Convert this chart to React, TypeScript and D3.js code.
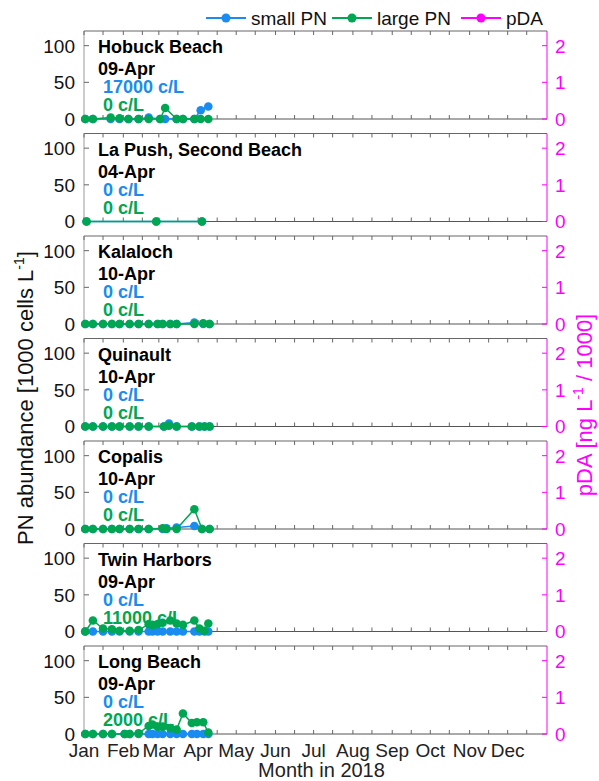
import * as d3 from 'd3';

// site panels, top to bottom
const siteNames = ["Hobuck Beach", "La Push, Second Beach", "Kalaloch", "Quinault", "Copalis", "Twin Harbors", "Long Beach"];
const lastSample = ["09-Apr", "04-Apr", "10-Apr", "10-Apr", "10-Apr", "09-Apr", "09-Apr"];
const smallLabels = ["17000 c/L", "0 c/L", "0 c/L", "0 c/L", "0 c/L", "0 c/L", "0 c/L"];
const largeLabels = ["0 c/L", "0 c/L", "0 c/L", "0 c/L", "0 c/L", "11000 c/L", "2000 c/L"];

const monthLabels = ["Jan", "Feb", "Mar", "Apr", "May", "Jun", "Jul", "Aug", "Sep", "Oct", "Nov", "Dec"];
const leftTicks = [0, 50, 100];
const rightTicks = [0, 1, 2];

// PN abundance in 1000 cells/L
const hobuckDates = ["2018-01-02", "2018-01-08", "2018-01-22", "2018-01-29", "2018-02-05", "2018-02-13", "2018-02-21", "2018-03-02", "2018-03-06", "2018-03-15", "2018-03-20", "2018-03-29", "2018-04-03", "2018-04-09"];
const hobuckSmall = [0, 0, 0, 0, 0, 0, 2, 0, 0, 0, 0, 0, 12, 17];
const hobuckLarge = [0, 0, 2, 1, 0, 0, 0, 0, 15, 0, 0, 0, 0, 0];

const lapushDates = ["2018-01-03", "2018-02-27", "2018-04-04"];
const lapushSmall = [0, 0, 0];
const lapushLarge = [0, 0, 0];

const kalalochDates = ["2018-01-02", "2018-01-08", "2018-01-16", "2018-01-23", "2018-01-29", "2018-02-06", "2018-02-13", "2018-02-21", "2018-02-28", "2018-03-04", "2018-03-10", "2018-03-15", "2018-03-29", "2018-04-05", "2018-04-10"];
const kalalochSmall = [0, 0, 0, 0, 0, 0, 0, 0, 0, 0, 0, 0, 2, 0, 0];
const kalalochLarge = [0, 0, 0, 0, 0, 0, 0, 0, 0, 0, 0, 0, 0, 1, 0];

const quinaultDates = ["2018-01-02", "2018-01-08", "2018-01-16", "2018-01-23", "2018-01-29", "2018-02-06", "2018-02-13", "2018-02-21", "2018-03-05", "2018-03-09", "2018-03-15", "2018-03-27", "2018-04-02", "2018-04-06", "2018-04-10"];
const quinaultSmall = [0, 0, 0, 0, 0, 0, 0, 0, 0, 4, 0, 0, 0, 0, 0];
const quinaultLarge = [0, 0, 0, 0, 0, 0, 0, 0, 0, 1, 0, 0, 0, 0, 0];

const copalisDates = ["2018-01-02", "2018-01-08", "2018-01-16", "2018-01-23", "2018-01-29", "2018-02-06", "2018-02-13", "2018-02-21", "2018-03-04", "2018-03-07", "2018-03-15", "2018-03-29", "2018-04-04", "2018-04-10"];
const copalisSmall = [0, 0, 0, 0, 0, 0, 0, 0, 0, 1, 2, 4, 0, 0];
const copalisLarge = [0, 0, 0, 0, 0, 0, 0, 0, 1, 0, 0, 27, 0, 0];

const twinDates = ["2018-01-02", "2018-01-08", "2018-01-16", "2018-01-23", "2018-01-29", "2018-02-06", "2018-02-13", "2018-02-21", "2018-02-24", "2018-02-28", "2018-03-04", "2018-03-10", "2018-03-15", "2018-03-20", "2018-03-29", "2018-04-02", "2018-04-06", "2018-04-09"];
const twinSmall = [0, 0, 0, 0, 0, 0, 0, 0, 0, 0, 0, 0, 0, 0, 0, 0, 0, 0];
const twinLarge = [0, 15, 4, 3, 1, 1, 2, 10, 9, 10, 12, 15, 11, 9, 15, 4, 1, 11];

const longDates = ["2018-01-02", "2018-01-08", "2018-01-16", "2018-01-23", "2018-02-02", "2018-02-06", "2018-02-13", "2018-02-21", "2018-02-24", "2018-02-28", "2018-03-04", "2018-03-10", "2018-03-15", "2018-03-20", "2018-03-27", "2018-03-31", "2018-04-05", "2018-04-09"];
const longSmall = [0, 0, 0, 0, 0, 0, 0, 0, 0, 0, 0, 0, 0, 0, 0, 0, 0, 0];
const longLarge = [0, 0, 0, 0, 0, 0, 1, 11, 13, 10, 10, 8, 6, 28, 15, 16, 16, 2];

const siteDates = [hobuckDates, lapushDates, kalalochDates, quinaultDates, copalisDates, twinDates, longDates];
const siteSmall = [hobuckSmall, lapushSmall, kalalochSmall, quinaultSmall, copalisSmall, twinSmall, longSmall];
const siteLarge = [hobuckLarge, lapushLarge, kalalochLarge, quinaultLarge, copalisLarge, twinLarge, longLarge];

const BLUE = "#1a8cf0";
const GREEN = "#00a651";
const MAGENTA = "#ff00ff";
const FONT = "'Liberation Sans', Arial, sans-serif";

export default function App() {
  const W = 599, H = 781;
  const left = 84, right = 547;
  const panelH = 88, firstBottom = 119, step = 102.5;
  const parse = d3.timeParse("%Y-%m-%d");

  const x = d3.scaleTime()
    .domain([new Date(2018, 0, 1), new Date(2019, 0, 1)])
    .range([left, right]);

  const months = d3.timeMonths(new Date(2018, 0, 1), new Date(2019, 0, 1));
  const tickDates = months.flatMap(m => [m, d3.timeDay.offset(m, 15)]);

  return (
    <svg width={W} height={H} style={{ position: 'absolute', left: 0, top: 0 }} fontFamily={FONT}>
      <rect width={W} height={H} fill="#fff" />

      {/* legend */}
      {[["small PN", BLUE, 206], ["large PN", GREEN, 332], ["pDA", MAGENTA, 461]].map(([lab, col, x0]) => (
        <g key={lab as string}>
          <line x1={x0 as number} x2={(x0 as number) + 40} y1={18} y2={18} stroke={col as string} strokeWidth={2} />
          <circle cx={(x0 as number) + 20} cy={18} r={4.5} fill={col as string} />
          <text x={(x0 as number) + 45} y={25} fontSize={19} fill="#111">{lab}</text>
        </g>
      ))}

      {siteNames.map((name, i) => {
        const bottom = firstBottom + i * step;
        const top = bottom - panelH;
        const y = d3.scaleLinear().domain([0, 120]).range([bottom, top]);
        const yR = d3.scaleLinear().domain([0, 2.4]).range([bottom, top]);
        const dates = siteDates[i].map(d => parse(d) as Date);
        const smallPts: [Date, number][] = dates.map((d, k) => [d, siteSmall[i][k]]);
        const largePts: [Date, number][] = dates.map((d, k) => [d, siteLarge[i][k]]);
        const line = d3.line<[Date, number]>().x(d => x(d[0])).y(d => y(d[1]));
        const isLast = i === siteNames.length - 1;
        return (
          <g key={name}>
            {/* box */}
            <line x1={left} x2={right} y1={top} y2={top} stroke="#666" />
            <line x1={left} x2={right} y1={bottom} y2={bottom} stroke="#555" />
            <line x1={left} x2={left} y1={top} y2={bottom} stroke="#999" />
            <line x1={right} x2={right} y1={top} y2={bottom} stroke={MAGENTA} />
            {tickDates.map((t, k) => (
              <g key={k} stroke="#666">
                <line x1={x(t)} x2={x(t)} y1={top} y2={top + 4} />
                <line x1={x(t)} x2={x(t)} y1={bottom} y2={bottom - 4} />
              </g>
            ))}
            {leftTicks.map(t => (
              <g key={t}>
                <line x1={left} x2={left + 5} y1={y(t)} y2={y(t)} stroke="#666" />
                <text x={left - 9} y={y(t)} dy="0.36em" textAnchor="end" fontSize={19} fill="#111">{t}</text>
              </g>
            ))}
            {rightTicks.map(t => (
              <g key={t}>
                <line x1={right} x2={right - 5} y1={yR(t)} y2={yR(t)} stroke={MAGENTA} />
                <text x={right + 8} y={yR(t)} dy="0.36em" fontSize={19} fill={MAGENTA}>{t}</text>
              </g>
            ))}

            {/* series */}
            <path d={line(smallPts) || ""} fill="none" stroke={BLUE} strokeWidth={1.5} />
            {smallPts.map((p, k) => <circle key={k} cx={x(p[0])} cy={y(p[1])} r={4.3} fill={BLUE} />)}
            <path d={line(largePts) || ""} fill="none" stroke={GREEN} strokeWidth={1.5} />
            {largePts.map((p, k) => <circle key={k} cx={x(p[0])} cy={y(p[1])} r={4.3} fill={GREEN} />)}

            {/* annotations */}
            <text x={98} y={bottom - 66} fontSize={18} fontWeight="bold" fill="#000">{name}</text>
            <text x={98} y={bottom - 44} fontSize={18} fontWeight="bold" fill="#000">{lastSample[i]}</text>
            <text x={103} y={bottom - 26} fontSize={18} fontWeight="bold" fill={BLUE}>{smallLabels[i]}</text>
            <text x={103} y={bottom - 8} fontSize={18} fontWeight="bold" fill={GREEN}>{largeLabels[i]}</text>

            {isLast && months.map((m, k) => (
              <text key={k} x={x(m)} y={757} textAnchor="middle" fontSize={19} fill="#222">{monthLabels[k]}</text>
            ))}
          </g>
        );
      })}

      <text x={(left + right) / 2 + 6} y={777} textAnchor="middle" fontSize={20} fill="#222">Month in 2018</text>
      <text transform="translate(33,398) rotate(-90)" textAnchor="middle" fontSize={22} fill="#111">
        PN abundance [1000 cells L<tspan dy={-9} fontSize={14}>-1</tspan><tspan dy={9}>]</tspan>
      </text>
      <text transform="translate(592,405) rotate(-90)" textAnchor="middle" fontSize={22} fill={MAGENTA}>
        pDA [ng L<tspan dy={-9} fontSize={14}>-1</tspan><tspan dy={9}> / 1000]</tspan>
      </text>
    </svg>
  );
}
